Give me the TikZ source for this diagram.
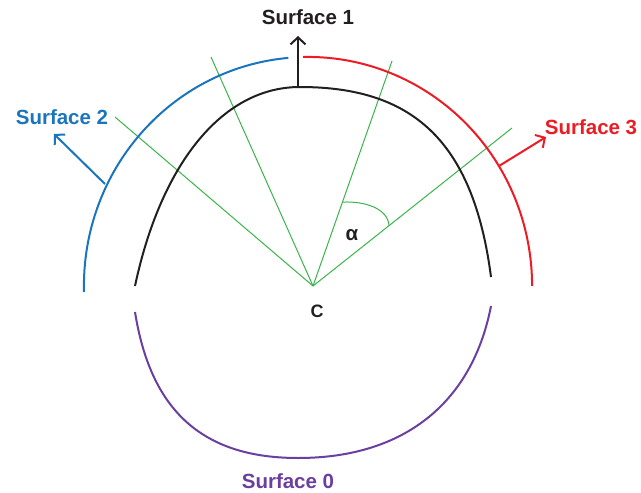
\documentclass[tikz,border=0pt]{standalone}
\usepackage{fontspec}
\setmainfont{Liberation Sans}
\usetikzlibrary{arrows.meta,calc}
\definecolor{cblack}{HTML}{231F20}
\definecolor{cblue}{HTML}{1B75BC}
\definecolor{cred}{HTML}{ED1C24}
\definecolor{cpurple}{HTML}{6A3FA0}
\definecolor{cgreen}{HTML}{39B54A}
\tikzset{
  lbl/.style={font=\fontsize{20.5}{24}\selectfont\bfseries, inner sep=0pt},
  surf/.style={line width=2pt},
  ray/.style={cgreen, line width=1pt},
  ptr/.style={line width=2pt, -{Straight Barb[length=7pt,width=15pt,line width=2pt]}}
}
\begin{document}
\begin{tikzpicture}[x=1pt,y=-1pt]
\useasboundingbox (0,0) rectangle (641,493);
% centre
\coordinate (C) at (313,286);
% green rays
\coordinate (g1) at (115,117);
\coordinate (g2) at (211,57);
\coordinate (g3) at (392,61);
\coordinate (g4) at (512,128);
\foreach \g in {g1,g2,g3,g4} \draw[ray] (C) -- (\g);
% alpha arc
\coordinate (a1) at ($(C)!0.373!(g3)$);
\coordinate (a2) at ($(C)!0.382!(g4)$);
\draw[ray] (a1) .. controls (366,201) and (388,209) .. (a2);
% black surface 1 (inner top)
\draw[surf, cblack] (135,286) .. controls (160,168) and (220,87) .. (300,87)
                               .. controls (410,87) and (473,138) .. (491,277);
% blue surface 2
\draw[surf, cblue] (84,292) arc[start angle=178.5, end angle=265, x radius=224, y radius=229];
% red surface 3
\draw[surf, cred] (303,57) arc[start angle=268.7, end angle=360, x radius=224, y radius=229];
% purple surface 0
\draw[surf, cpurple] (135,312) .. controls (150,406) and (198,458) .. (298,458)
                                .. controls (408,458) and (473,399) .. (491,306);
% pointers
\coordinate (p1s) at (298,87);
\coordinate (p1e) at (298,36);
\coordinate (p2s) at (105,184);
\coordinate (p2e) at (54,134);
\coordinate (p3s) at (499,166);
\coordinate (p3e) at (546,137);
\draw[ptr, cblack] (p1s) -- (p1e);
\draw[ptr, cblue] (p2s) -- (p2e);
\draw[ptr, cred] (p3s) -- (p3e);
% labels
\node[lbl, text=cblack] (s1) at (308,17) {Surface 1};
\node[lbl, text=cblue] (s2) at (62,117) {Surface 2};
\node[lbl, text=cred] (s3) at (591,127) {Surface 3};
\node[lbl, text=cpurple] (s0) at (288,481) {Surface 0};
\node[lbl, text=cblack] (al) at (352,235) {α};
\node[font=\fontsize{18}{21}\selectfont\bfseries, inner sep=0pt, text=cblack] (cl) at (317,311) {C};
\end{tikzpicture}
\end{document}
